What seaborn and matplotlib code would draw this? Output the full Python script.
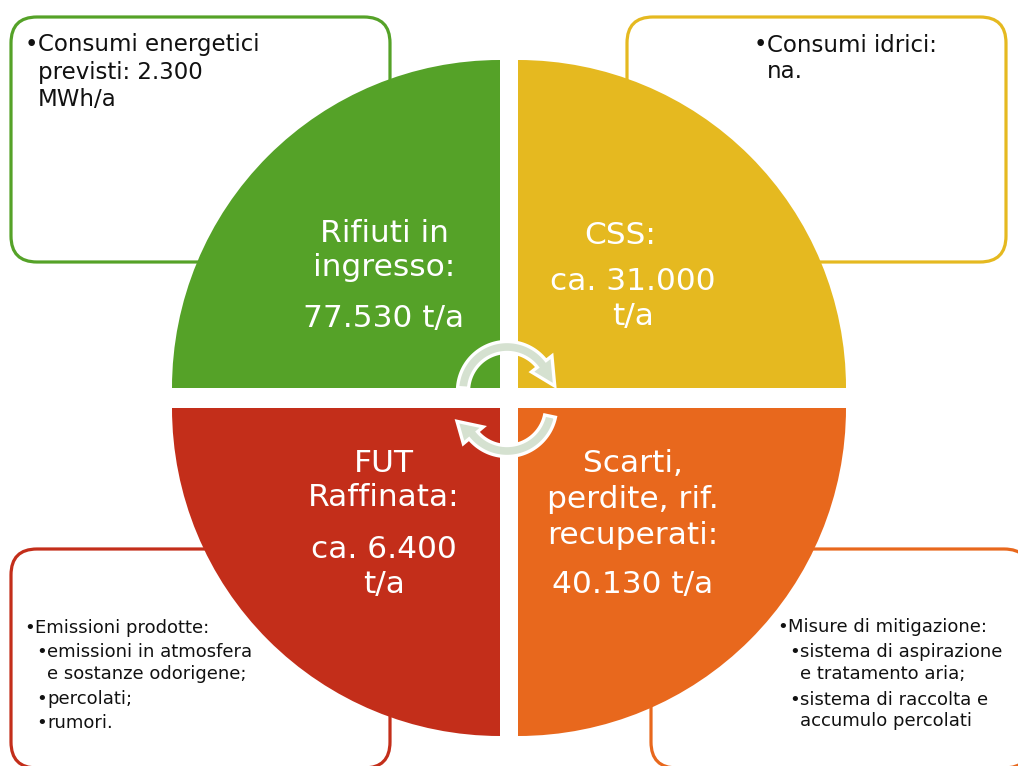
import numpy as np
import matplotlib
matplotlib.use("Agg")
import matplotlib.pyplot as plt
import seaborn as sns
from matplotlib.patches import Wedge, FancyBboxPatch, Polygon

# ---------------- data ----------------
quadrant_names = ["green", "yellow", "red", "orange"]
quadrant_colors = ["#55A228", "#E5B920", "#C32E1A", "#E8681D"]
quadrant_lines = [
    ["Rifiuti in", "ingresso:", "77.530 t/a"],
    ["CSS:", "ca. 31.000", "t/a"],
    ["FUT", "Raffinata:", "ca. 6.400", "t/a"],
    ["Scarti,", "perdite, rif.", "recuperati:", "40.130 t/a"],
]
box_top_left = ["Consumi energetici", "previsti: 2.300", "MWh/a"]
box_top_right = ["Consumi idrici:", "na."]
box_bottom_left_head = "Emissioni prodotte:"
box_bottom_left_items = [["emissioni in atmosfera", "e sostanze odorigene;"], ["percolati;"], ["rumori."]]
box_bottom_right_head = "Misure di mitigazione:"
box_bottom_right_items = [["sistema di aspirazione", "e tratamento aria;"], ["sistema di raccolta e", "accumulo percolati"]]

# ---------------- figure ----------------
sns.set_theme(style="white")
plt.rcParams['font.family'] = ['DejaVu Sans']

W, H = 1018, 766
fig = plt.figure(figsize=(W / 100, H / 100), dpi=100)
ax = fig.add_axes([0, 0, 1, 1])
ax.set_xlim(0, W)
ax.set_ylim(H, 0)
ax.set_aspect('equal')
ax.axis('off')

lw_box = 2.3
# rounded boxes (behind circle)
boxes = [
    (11, 17, 379, 245, quadrant_colors[0]),
    (627, 17, 379, 245, quadrant_colors[1]),
    (11, 549, 379, 219, quadrant_colors[2]),
    (651, 549, 379, 219, quadrant_colors[3]),
]
for x, y, w, h, c in boxes:
    ax.add_patch(FancyBboxPatch((x, y), w, h, boxstyle="round,pad=0,rounding_size=26",
                                facecolor="white", edgecolor=c, linewidth=lw_box, zorder=1))

# quarter discs
R = 328
centers = [(500, 388), (518, 388), (500, 408), (518, 408)]
angles = [(180, 270), (270, 360), (90, 180), (0, 90)]
for (cx, cy), (a1, a2), col in zip(centers, angles, quadrant_colors):
    ax.add_patch(Wedge((cx, cy), R, a1, a2, facecolor=col, edgecolor='none', zorder=2))

# quadrant texts
qfs = 22.5
q_text_pos = [
    (384, [233, 268, 318]),
    (633, [236, 281, 316]),
    (384, [463, 497, 549, 584]),
    (633, [463, 500, 535, 584]),
]
for (xc, ys), lines in zip(q_text_pos, quadrant_lines):
    for yy, t in zip(ys, lines):
        xx = xc
        if t == "CSS:":
            xx = 620
        ax.text(xx, yy, t, color='white', fontsize=qfs, ha='center', va='center', zorder=5)

# circular arrows
def arc_arrow(cx, cy, r, hw, th_start, th_end, th_tip, r_tip, head_hw):
    th = np.radians(np.linspace(th_start, th_end, 60))
    outer = np.column_stack([cx + (r + hw) * np.cos(th), cy - (r + hw) * np.sin(th)])
    inner = np.column_stack([cx + (r - hw) * np.cos(th), cy - (r - hw) * np.sin(th)])
    te = np.radians(th_end)
    tt = np.radians(th_tip)
    head = [
        (cx + (r + head_hw) * np.cos(te), cy - (r + head_hw) * np.sin(te)),
        (cx + r_tip * np.cos(tt), cy - r_tip * np.sin(tt)),
        (cx + (r - head_hw) * np.cos(te), cy - (r - head_hw) * np.sin(te)),
    ]
    pts = np.vstack([outer, head, inner[::-1]])
    ax.add_patch(Polygon(pts, closed=True, facecolor="#D5E1D0", edgecolor='white',
                         linewidth=2.4, joinstyle='miter', zorder=6))

arc_arrow(507, 391, 44, 5.5, 176, 38, 6, 48, 13)
arc_arrow(507, 407, 44, 5.5, -12, -140, -164, 52, 13)

# box texts
bfs = 16.5
tc = "#111111"
def bullet_lines(xb, xt, ys, lines, fs, bullet=True):
    if bullet:
        ax.text(xb, ys[0], "•", fontsize=fs, color=tc, ha='left', va='center', zorder=3)
    for yy, t in zip(ys, lines):
        ax.text(xt, yy, t, fontsize=fs, color=tc, ha='left', va='center', zorder=3)

bullet_lines(25, 38, [45, 72, 99], box_top_left, bfs)
bullet_lines(754, 767, [45, 72], box_top_right, bfs)

sfs = 13
ax.text(24, 628, "•", fontsize=sfs, color=tc, ha='left', va='center', zorder=3)
ax.text(35, 628, box_bottom_left_head, fontsize=sfs, color=tc, ha='left', va='center', zorder=3)
ys_bl = [[652, 674], [699], [723]]
for item, ys in zip(box_bottom_left_items, ys_bl):
    ax.text(36, ys[0], "•", fontsize=sfs, color=tc, ha='left', va='center', zorder=3)
    for yy, t in zip(ys, item):
        ax.text(47, yy, t, fontsize=sfs, color=tc, ha='left', va='center', zorder=3)

ax.text(777, 627, "•", fontsize=sfs, color=tc, ha='left', va='center', zorder=3)
ax.text(788, 627, box_bottom_right_head, fontsize=sfs, color=tc, ha='left', va='center', zorder=3)
ys_br = [[652, 674], [700, 721]]
for item, ys in zip(box_bottom_right_items, ys_br):
    ax.text(789, ys[0], "•", fontsize=sfs, color=tc, ha='left', va='center', zorder=3)
    for yy, t in zip(ys, item):
        ax.text(800, yy, t, fontsize=sfs, color=tc, ha='left', va='center', zorder=3)

fig.savefig("out.png", dpi=100, facecolor='white')
